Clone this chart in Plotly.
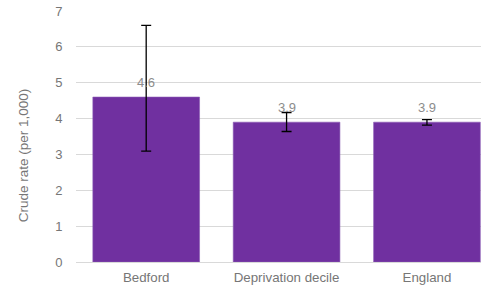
import plotly.graph_objects as go

categories = ["Bedford", "Deprivation decile", "England"]
values = [4.6, 3.9, 3.9]
upper_ci = [6.6, 4.17, 3.97]
lower_ci = [3.09, 3.64, 3.82]
labels = ["4.6", "3.9", "3.9"]
y_ticks = [0, 1, 2, 3, 4, 5, 6, 7]
y_title = "Crude rate (per 1,000)"

err_plus = [u - v for u, v in zip(upper_ci, values)]
err_minus = [v - l for v, l in zip(values, lower_ci)]

fig = go.Figure()
fig.add_trace(go.Bar(
    x=categories, y=values,
    marker=dict(color="#7030A0", line=dict(color="#8a5ab3", width=0.6)),
    error_y=dict(type="data", symmetric=False, array=err_plus, arrayminus=err_minus,
                 color="black", thickness=1.3, width=5),
    hoverinfo="skip",
))

for c, v, t in zip(categories, values, labels):
    fig.add_annotation(x=c, y=v, text=t, showarrow=False, yanchor="bottom", yshift=5,
                       font=dict(family="Liberation Sans, Arial", size=13, color="#8c8c8c"))

fig.add_annotation(xref="paper", yref="paper", x=-0.131, y=0.425, text=y_title,
                   textangle=-90, showarrow=False, xanchor="center", yanchor="middle",
                   font=dict(family="Liberation Sans, Arial", size=13.5, color="#767676"))

fig.update_layout(
    width=481, height=286,
    margin=dict(l=76, r=0, t=11, b=24),
    paper_bgcolor="white", plot_bgcolor="white",
    bargap=0.24,
    showlegend=False,
    font=dict(family="Liberation Sans, Arial", color="#767676"),
    xaxis=dict(range=[-0.5, 2.385], showgrid=False, showline=False,
               tickfont=dict(size=13.3, color="#767676"), ticks="outside",
               ticklen=3, tickcolor="rgba(0,0,0,0)"),
    yaxis=dict(range=[0, 7], tickvals=y_ticks, showgrid=True, gridcolor="#d9d9d9",
               gridwidth=1, zeroline=True, zerolinecolor="#d9d9d9", zerolinewidth=1,
               tickfont=dict(size=13, color="#767676"), ticks="outside", ticklen=10,
               tickcolor="rgba(0,0,0,0)"),
)

fig.write_html("out.html", config={"displayModeBar": False},
               post_script="document.body.style.margin='0';")
